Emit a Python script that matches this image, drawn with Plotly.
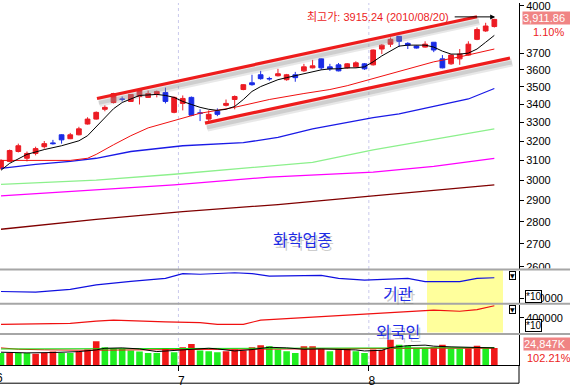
import math
import plotly.graph_objects as go

# ---------------- data ----------------
june = [1, 3, 4, 7, 8, 9, 10, 11, 14, 15, 16, 17, 18, 21, 22, 23, 24, 25, 28, 29, 30]
july = [1, 2, 5, 6, 7, 8, 9, 12, 13, 14, 15, 16, 19, 20, 21, 22, 23, 26, 27, 28, 29, 30]
aug = [2, 3, 4, 5, 6, 9, 10, 11, 12, 13, 16, 17, 18, 19, 20]
dates = ([f"2010/06/{d:02d}" for d in june] + [f"2010/07/{d:02d}" for d in july]
         + [f"2010/08/{d:02d}" for d in aug])
month_labels = ["6", "7", "8"]

opens = [3059, 3094, 3145, 3110, 3135, 3170, 3190, 3233, 3212, 3233, 3291, 3318, 3372, 3410, 3430,
         3416, 3444, 3439, 3456, 3467, 3355, 3405, 3439, 3352, 3318, 3361, 3394, 3427, 3484, 3523,
         3570, 3548, 3564, 3541, 3570, 3593, 3611, 3665, 3617, 3629, 3611, 3617, 3635, 3629, 3725,
         3755, 3804, 3760, 3743, 3737, 3767, 3665, 3635, 3665, 3688, 3785, 3838, 3866]
highs = [3105, 3155, 3186, 3145, 3170, 3200, 3206, 3236, 3243, 3276, 3328, 3360, 3394, 3465, 3444,
         3458, 3486, 3478, 3478, 3495, 3444, 3450, 3444, 3372, 3366, 3377, 3427, 3450, 3515, 3570,
         3593, 3558, 3605, 3575, 3587, 3635, 3659, 3668, 3635, 3640, 3640, 3650, 3640, 3722, 3755,
         3797, 3806, 3767, 3746, 3773, 3768, 3688, 3692, 3725, 3773, 3860, 3890, 3915.24]
lows = [3052, 3090, 3140, 3094, 3125, 3160, 3181, 3186, 3210, 3230, 3288, 3315, 3361, 3405, 3416,
        3413, 3399, 3436, 3439, 3405, 3350, 3366, 3334, 3307, 3296, 3334, 3388, 3372, 3480, 3506,
        3541, 3535, 3560, 3535, 3529, 3587, 3608, 3599, 3593, 3590, 3605, 3612, 3599, 3625, 3694,
        3737, 3737, 3725, 3728, 3734, 3706, 3608, 3629, 3629, 3685, 3780, 3832, 3860]
closes = [3099, 3150, 3175, 3135, 3160, 3186, 3186, 3206, 3233, 3265, 3318, 3355, 3383, 3461, 3428,
          3456, 3484, 3461, 3473, 3416, 3439, 3433, 3339, 3350, 3344, 3344, 3405, 3444, 3512, 3512,
          3547, 3546, 3576, 3570, 3553, 3617, 3623, 3611, 3605, 3593, 3635, 3641, 3605, 3719, 3749,
          3785, 3773, 3749, 3731, 3755, 3719, 3611, 3688, 3694, 3755, 3847, 3869.3, 3911.86]

# moving averages: (day index, value)
ma5_idx = [0, 1, 3, 5, 7, 9, 10, 11, 12, 13, 14, 15, 16, 18, 19, 20, 21, 22, 23, 24, 25, 26, 27, 28,
           29, 30, 31, 32, 33, 34, 35, 36, 37, 38, 39, 40, 41, 42, 43, 44, 45, 46, 47, 48, 49, 50,
           51, 52, 53, 54, 55, 56, 57]
ma5_val = [3049, 3084, 3130, 3155, 3175, 3201, 3228, 3278, 3328, 3375, 3410, 3430, 3450, 3456, 3450,
           3439, 3416, 3399, 3383, 3372, 3366, 3372, 3388, 3427, 3473, 3501, 3523, 3541, 3553, 3564,
           3576, 3587, 3599, 3605, 3605, 3611, 3611, 3617, 3647, 3683, 3712, 3743, 3749, 3749, 3749,
           3737, 3712, 3694, 3694, 3700, 3725, 3767, 3810]
ma20_idx = [0, 8, 10, 11, 13, 15, 17, 19, 21, 23, 27, 31, 35, 38, 40, 43, 46, 50, 53, 55, 57]
ma20_val = [3099, 3099, 3110, 3130, 3180, 3228, 3270, 3296, 3320, 3350, 3383, 3427, 3461, 3484,
            3506, 3547, 3593, 3647, 3677, 3700, 3725]
ma60_idx = [0, 4, 8, 11, 15, 21, 28, 32, 36, 40, 43, 46, 50, 54, 57]
ma60_val = [3059, 3079, 3094, 3110, 3145, 3175, 3191, 3219, 3265, 3299, 3326, 3347, 3388, 3430, 3490]
ma120_idx = [0, 11, 20, 28, 36, 43, 50, 57]
ma120_val = [2979, 3000, 3029, 3059, 3089, 3153, 3207, 3265]
ma200_idx = [0, 11, 20, 31, 43, 50, 57]
ma200_val = [2923, 2952, 2976, 3015, 3040, 3069, 3109]
ma240_idx = [0, 11, 21, 32, 43, 57]
ma240_val = [2766, 2811, 2848, 2881, 2923, 2976]

# drawn trend channel: (day index, price)
chan_up_idx = [11.09, 55.0]
chan_up_val = [3433, 3929]
chan_lo_idx = [23.57, 58.81]
chan_lo_val = [3296, 3670]

# institutional / foreign net holdings
inst_idx = [0, 4, 8, 11, 15, 19, 21, 23, 27, 29, 31, 35, 37, 39, 42, 47, 49, 53, 55, 57]
inst_val = [439000, 435000, 452000, 478000, 499000, 517000, 546000, 542000, 551000, 546000, 531000,
            531000, 535000, 517000, 507000, 517000, 498000, 498000, 517000, 521000]
frgn_idx = [0, 8, 11, 13, 19, 23, 25, 28, 30, 35, 38, 42, 46, 50, 53, 55, 57]
frgn_val = [365000, 370000, 383000, 388000, 378000, 374000, 365000, 365000, 388000, 401000, 410000,
            422000, 431000, 442000, 436000, 445000, 466000]

# volume (thousand shares); u = volume up, d = volume down
volumes = [17700, 17700, 17700, 17700, 16300, 17700, 19600, 17700, 17700, 19600, 22500, 34500,
           25900, 24400, 23500, 21100, 19600, 17700, 17700, 24400, 18700, 25900, 30600, 21100,
           20100, 18700, 20100, 22500, 21100, 25900, 28700, 27300, 22500, 20100, 17700, 27300,
           27300, 23500, 20100, 23500, 23500, 20100, 17700, 22800, 22000, 36900, 29500, 28500,
           24000, 24000, 26000, 29500, 24200, 24200, 24500, 28000, 24310, 24847]
vol_dir = ("duddu" "uuddu" "uuddd" "ddddu" "duudd" "duuuu" "udddd" "uuudu" "udduu" "udddd"
           "uuddu" "udu")
volma_g_idx = [0, 20, 30, 42, 57]
volma_g_val = [23400, 23700, 24300, 24800, 25300]
volma_r_idx = [0, 2, 5, 10, 20, 30, 40, 50, 57]
volma_r_val = [25000, 23000, 22200, 21500, 22500, 23500, 24000, 24500, 24500]
volma_k_idx = [0, 3, 6, 9, 11, 12, 14, 16, 18, 19, 21, 22, 24, 25, 27, 29, 31, 33, 35, 37, 39, 41,
               42, 44, 45, 47, 49, 50, 52, 54, 57]
volma_k_val = [18700, 17700, 18200, 19600, 22000, 24400, 25000, 23500, 19600, 20500, 21500, 23500,
               24500, 23500, 20500, 22500, 25900, 25000, 23000, 23500, 23000, 22000, 20500, 21500,
               25500, 28200, 29000, 27500, 26500, 25500, 25000]

# ---------------- geometry helpers ----------------
W, H = 570, 388
ML, MR, MT, MB = 0, 51, 0, 20
PW = W - ML - MR
PH = H - MT - MB


def px(xp):
    return (xp - ML) / PW


def py(yp):
    return (MT + PH - yp) / PH


n = len(closes)
idx = list(range(n))
RED = "#ec1c24"
BLUE = "#1a2ce6"
LBL = "Liberation Sans, Arial, sans-serif"
KR = "Noto Sans CJK KR, sans-serif"

fig = go.Figure()


def line(xs, ys, color, width, axis="y", dash=None):
    fig.add_trace(go.Scatter(x=xs, y=ys, mode="lines", yaxis=axis,
                             line=dict(color=color, width=width, dash=dash),
                             hoverinfo="skip"))


# long moving averages
line(ma240_idx, ma240_val, "#800000", 1.3)
line(ma200_idx, ma200_val, "#ff00ff", 1.3)
line(ma120_idx, ma120_val, "#8cf08c", 1.3)
line(ma60_idx, ma60_val, "#1a1ae6", 1.3)
line(ma20_idx, ma20_val, "#f01010", 1)

# channel shadows then lines
sh = 10 ** (-4.5 / 1417)
for ci, cv in ((chan_up_idx, chan_up_val), (chan_lo_idx, chan_lo_val)):
    line([c + 0.25 for c in ci], [v * sh for v in cv], "rgba(150,150,150,0.22)", 8)
    line([c + 0.2 for c in ci], [v * sh for v in cv], "rgba(140,140,140,0.28)", 4)
for ci, cv in ((chan_up_idx, chan_up_val), (chan_lo_idx, chan_lo_val)):
    line(ci, cv, "#ee1c1c", 3.2)

fig.add_trace(go.Candlestick(
    x=idx, open=opens, high=highs, low=lows, close=closes, yaxis="y",
    increasing=dict(line=dict(color=RED, width=1), fillcolor=RED),
    decreasing=dict(line=dict(color=BLUE, width=1), fillcolor=BLUE),
    whiskerwidth=0, hoverinfo="skip"))
line(ma5_idx, ma5_val, "black", 1)

# sub panels
line(inst_idx, inst_val, "#1010e0", 1.2, axis="y2")
line(frgn_idx, frgn_val, "#f01010", 1.2, axis="y3")

# volume
vcol = ["#f01818" if d == "u" else "#20ee20" for d in vol_dir]
fig.add_trace(go.Bar(x=idx, y=volumes, yaxis="y4", marker=dict(color=vcol, line=dict(width=0)),
                     width=0.76, hoverinfo="skip"))
line(volma_r_idx, volma_r_val, "#f01010", 1, axis="y4")
line(volma_g_idx, volma_g_val, "#10dd10", 1, axis="y4")
line(volma_k_idx, volma_k_val, "black", 1, axis="y4")

# ---------------- axes ----------------
month_pos = [i - 0.5 for i in range(n) if i == 0 or dates[i][5:7] != dates[i - 1][5:7]]
x_range = [(0 - 1) / 8.655, (PW - 1) / 8.655]
ppu = 1417.0
logmid = math.log10(3000)
main_range = [logmid - 90 / ppu, logmid + 180 / ppu]
price_ticks = [2600, 2700, 2800, 2900, 3000, 3100, 3200, 3300, 3400, 3500, 3600, 3700, 4000]

tickfont = dict(family=LBL, size=11, color="black")
common_y = dict(side="right", anchor="x", showline=True, linecolor="black", linewidth=1,
                showgrid=False, zeroline=False, tickfont=tickfont, ticks="outside",
                ticklen=4, tickcolor="black", fixedrange=True, ticklabeloverflow="allow")

fig.update_layout(
    width=W, height=H, margin=dict(l=ML, r=MR, t=MT, b=MB),
    paper_bgcolor="white", plot_bgcolor="rgba(0,0,0,0)", showlegend=False,
    boxgap=0.22,
    xaxis=dict(domain=[0, 1], anchor="y4", range=x_range, tickvals=month_pos[1:],
               ticktext=month_labels[1:], ticks="outside", ticklen=5, tickcolor="black",
               showline=True, linecolor="black", showgrid=False, zeroline=False,
               tickfont=dict(family=LBL, size=12, color="black"), ticklabelshift=3,
               rangeslider=dict(visible=False), fixedrange=True),
    yaxis=dict(domain=[py(270), 1], type="log", range=main_range, tickvals=price_ticks,
               ticktext=[str(t) for t in price_ticks], **common_y),
    yaxis2=dict(domain=[py(305), py(272)], range=[370000, 564100], tickvals=[400000],
                ticktext=["400000"], **common_y),
    yaxis3=dict(domain=[py(335.5), py(307)], range=[318000, 470000], tickvals=[400000],
                ticktext=["400000"], **common_y),
    yaxis4=dict(domain=[0, py(338)], range=[0, 43090], showticklabels=False,
                **{k: v for k, v in common_y.items() if k not in ("ticks",)}),
)
fig.update_layout(yaxis4_ticks="")

# ---------------- shapes ----------------
shapes = []
# yellow highlight behind sub panels
shapes.append(dict(type="rect", xref="paper", yref="paper", x0=px(427), x1=px(503),
                   y0=py(335), y1=py(271), fillcolor="#ffff9c", line=dict(width=0), layer="below"))
# month grid lines
for m in month_pos[1:]:
    shapes.append(dict(type="line", xref="x", yref="paper", x0=m, x1=m, y0=0, y1=1,
                       line=dict(color="#c9c9ec", width=1, dash="dot"), layer="below"))
# cover lower half of the 2600 label
shapes.append(dict(type="rect", xref="paper", yref="paper", x0=px(520), x1=px(W),
                   y0=py(277), y1=py(270), fillcolor="white", line=dict(width=0), layer="above"))
# panel separators
for yy in (270.8, 305.8, 336.5):
    shapes.append(dict(type="line", xref="paper", yref="paper", x0=0, x1=px(W), y0=py(yy),
                       y1=py(yy), line=dict(color="#a6a6a6", width=2), layer="above"))
# bottom frame of the date strip
shapes.append(dict(type="line", xref="paper", yref="paper", x0=0, x1=1, y0=py(386.5), y1=py(386.5),
                   line=dict(color="black", width=1)))
shapes.append(dict(type="line", xref="paper", yref="paper", x0=1, x1=1, y0=py(386.5), y1=0,
                   line=dict(color="black", width=1)))
fig.update_layout(shapes=shapes)

# ---------------- annotations ----------------
ann = []
hi = max(highs)
hi_date = dates[highs.index(hi)]
ann.append(dict(xref="paper", yref="paper", x=px(451), y=py(14), xanchor="right", yanchor="middle",
                text=f"최고가: {hi:.2f} ({hi_date})", showarrow=False,
                font=dict(family=LBL + ", " + KR, size=11, color=RED)))
ann.append(dict(xref="x", yref="y", x=highs.index(hi) + 0.1, y=math.log10(hi), yshift=2, text="",
                showarrow=True, ax=-42, ay=0, arrowhead=2, arrowsize=1, arrowwidth=1,
                arrowcolor="black"))
# last price box and change
chg = (closes[-1] / closes[-2] - 1) * 100
ann.append(dict(xref="paper", yref="y", x=px(522), y=math.log10(closes[-1]), yshift=1.5,
                xanchor="left", yanchor="middle", text=f"{closes[-1]:,.2f}&nbsp;&nbsp;",
                showarrow=False, bgcolor="#f08484", borderpad=0,
                font=dict(family=LBL, size=11, color="white")))
ann.append(dict(xref="paper", yref="paper", x=px(548), y=py(29), xanchor="center", yanchor="middle",
                text=f"{chg:.2f}%", showarrow=False, font=dict(family=LBL, size=11, color=RED)))
# volume box and ratio
vr = volumes[-1] / volumes[-2] * 100
ann.append(dict(xref="paper", yref="y4", x=px(523), y=volumes[-1], yshift=4, xanchor="left",
                yanchor="middle", text=f"{volumes[-1]:,}K&nbsp;&nbsp;", showarrow=False,
                bgcolor="#f08484", borderpad=0, font=dict(family=LBL, size=11, color="white")))
ann.append(dict(xref="paper", yref="paper", x=px(549), y=py(361), xanchor="center",
                yanchor="middle", text=f"{vr:.2f}%", showarrow=False,
                font=dict(family=LBL, size=11, color=RED)))
# *10 boxes and panel icons
for yy in (298, 328):
    ann.append(dict(xref="paper", yref="paper", x=px(533), y=py(yy), xanchor="center",
                    yanchor="middle", text="*10", showarrow=False, bgcolor="white",
                    bordercolor="black", borderwidth=1, borderpad=0,
                    font=dict(family=LBL, size=10, color="black")))
for yy in (277, 312):
    ann.append(dict(xref="paper", yref="paper", x=px(512), y=py(yy), xanchor="center",
                    yanchor="middle", text="▼", showarrow=False, bgcolor="white",
                    bordercolor="black", borderwidth=1, borderpad=0,
                    font=dict(family="DejaVu Sans", size=6, color="black")))
# panel titles with drop shadow
for txt, cx, cy in (("화학업종", 302, 240), ("기관", 398, 295), ("외국인", 397.5, 333)):
    ann.append(dict(xref="paper", yref="paper", x=px(cx + 2.5), y=py(cy + 3), text=txt,
                    xanchor="center", yanchor="middle", showarrow=False,
                    font=dict(family=KR, size=16, color="rgba(110,110,110,0.35)")))
    ann.append(dict(xref="paper", yref="paper", x=px(cx), y=py(cy), text=txt, showarrow=False,
                    xanchor="center", yanchor="middle",
                    font=dict(family=KR, size=16, color="#1e2ce6")))
# first month label (its tick lies just left of the plot)
ann.append(dict(xref="paper", yref="paper", x=px(-0.8), y=py(381), text=month_labels[0],
                showarrow=False, xanchor="center", yanchor="middle",
                font=dict(family=LBL, size=12, color="black")))
fig.update_layout(annotations=ann)

fig.write_html("out.html", config={"displayModeBar": False, "staticPlot": True},
               post_script="document.body.style.margin='0';")
